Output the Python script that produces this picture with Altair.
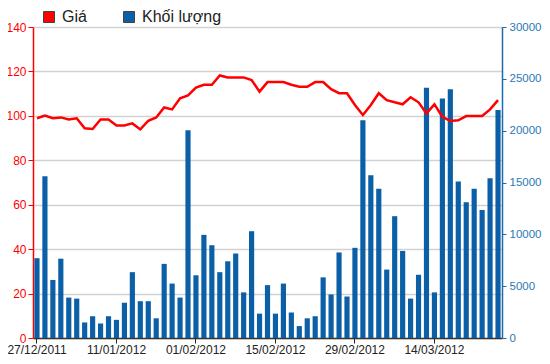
import altair as alt
import pandas as pd

dates = [
    "27/12/2011", "28/12/2011", "29/12/2011", "30/12/2011",
    "03/01/2012", "04/01/2012", "05/01/2012", "06/01/2012", "09/01/2012", "10/01/2012",
    "11/01/2012", "12/01/2012", "13/01/2012", "16/01/2012", "17/01/2012", "18/01/2012",
    "19/01/2012", "20/01/2012", "30/01/2012", "31/01/2012",
    "01/02/2012", "02/02/2012", "03/02/2012", "06/02/2012", "07/02/2012", "08/02/2012",
    "09/02/2012", "10/02/2012", "13/02/2012", "14/02/2012",
    "15/02/2012", "16/02/2012", "17/02/2012", "20/02/2012", "21/02/2012", "22/02/2012",
    "23/02/2012", "24/02/2012", "27/02/2012", "28/02/2012",
    "29/02/2012", "01/03/2012", "02/03/2012", "05/03/2012", "06/03/2012", "07/03/2012",
    "08/03/2012", "09/03/2012", "12/03/2012", "13/03/2012",
    "14/03/2012", "15/03/2012", "16/03/2012", "19/03/2012", "20/03/2012", "21/03/2012",
    "22/03/2012", "23/03/2012", "26/03/2012",
]

price = [
    98.9, 100.1, 98.9, 99.3, 98.4, 98.9, 94.4, 94.1, 98.4, 98.4,
    95.7, 95.7, 96.6, 93.9, 97.8, 99.3, 103.8, 102.9, 107.9, 109.2,
    112.7, 114.0, 114.0, 118.2, 117.3, 117.3, 117.3, 116.1, 110.9, 115.2,
    115.2, 115.2, 114.0, 113.1, 113.1, 115.2, 115.2, 112.0, 110.2, 110.2,
    104.9, 100.4, 104.9, 110.2, 107.1, 106.1, 105.2, 108.4, 106.1, 101.1,
    105.2, 99.6, 97.7, 98.0, 99.9, 99.9, 99.9, 102.9, 107.1,
]

volume = [
    7700, 15600, 5600, 7650, 3900, 3800, 1500, 2100, 1400, 2100,
    1750, 3400, 6350, 3550, 3550, 1900, 7150, 5250, 3900, 20050,
    6050, 9950, 8950, 6350, 7400, 8150, 4400, 10300, 2350, 5100,
    2350, 5250, 2450, 1150, 1900, 2100, 5850, 4200, 8250, 4000,
    8700, 21000, 15700, 14400, 6600, 11750, 8400, 3800, 6100, 24150,
    4400, 23100, 24000, 15100, 13100, 14400, 12350, 15400, 22000,
]

tick_dates = ["27/12/2011", "11/01/2012", "01/02/2012", "15/02/2012", "29/02/2012", "14/03/2012"]
series_names = ["Giá", "Khối lượng"]
series_colors = ["#ff0000", "#0a5fa6"]
price_ticks = [0, 20, 40, 60, 80, 100, 120, 140]
volume_ticks = [0, 5000, 10000, 15000, 20000, 25000, 30000]

df = pd.DataFrame({"date": dates, "price": price, "volume": volume, "series": "Khối lượng"})

FONT = "Liberation Sans"

x_enc = alt.X(
    "date:O",
    sort=None,
    title=None,
    scale=alt.Scale(paddingInner=0.35, paddingOuter=0.175),
    axis=alt.Axis(
        values=tick_dates, labelAngle=0, labelFont=FONT, labelFontSize=12,
        labelColor="#222222", tickColor="#222222", tickSize=5, labelPadding=1,
        domainColor="#333333", domainWidth=1.5, grid=False,
    ),
)

bars = alt.Chart(df).mark_bar().encode(
    x=x_enc,
    y=alt.Y(
        "volume:Q", title=None,
        scale=alt.Scale(domain=[0, 30000], nice=False),
        axis=alt.Axis(
            orient="right", values=volume_ticks, grid=False, format="d",
            labelColor="#2a78b6", labelFont=FONT, labelFontSize=11.5,
            tickColor="#1b6cab", tickSize=4, labelPadding=3,
            domainColor="#1b6cab", domainWidth=1.5,
        ),
    ),
    color=alt.Color(
        "series:N",
        scale=alt.Scale(domain=series_names, range=series_colors),
        legend=alt.Legend(
            title=None, orient="none", legendX=8, legendY=-18, direction="horizontal",
            symbolType="square", symbolSize=121, symbolStrokeColor="#444444",
            symbolStrokeWidth=1, labelFont=FONT, labelFontSize=16, labelColor="#222222",
            labelOffset=5, columnPadding=34, padding=0,
        ),
    ),
)

line = alt.Chart(df).mark_line(color="#ff0000", strokeWidth=2.5).encode(
    x=x_enc,
    y=alt.Y(
        "price:Q", title=None,
        scale=alt.Scale(domain=[0, 140], nice=False),
        axis=alt.Axis(
            orient="left", values=price_ticks, grid=True,
            gridColor="#d2d2d2", gridWidth=1.5,
            labelColor="#ff0000", labelFont=FONT, labelFontSize=12,
            tickColor="#ff0000", tickSize=5, labelPadding=2,
            domainColor="#ff0000", domainWidth=1.5,
        ),
    ),
)

chart = (
    alt.layer(bars, line)
    .resolve_scale(y="independent")
    .properties(
        width=469, height=311,
        padding={"left": 25, "top": 19, "right": 40, "bottom": 18},
        autosize=alt.AutoSizeParams(type="none"),
    )
    .configure_view(stroke="#333333", strokeWidth=1.5)
    .configure(background="white")
)

chart.save("out.html", embed_options={"renderer": "svg", "actions": False})
